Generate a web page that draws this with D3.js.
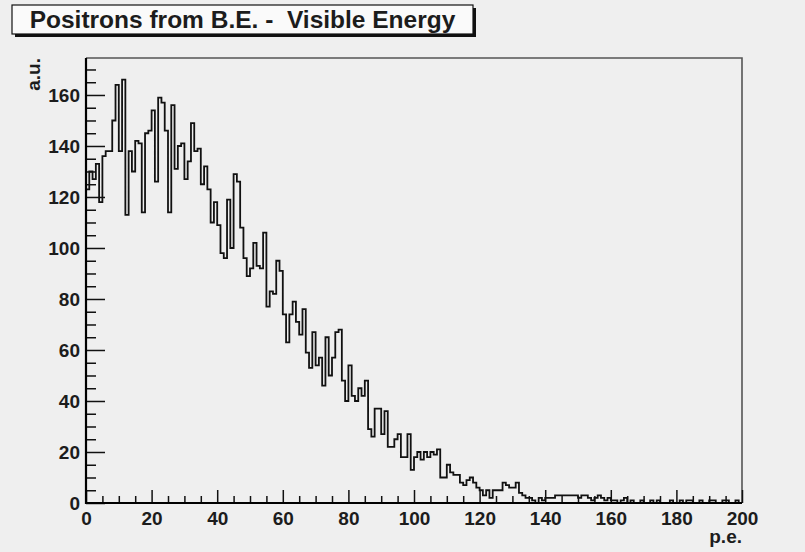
<!DOCTYPE html>
<html>
<head>
<meta charset="utf-8">
<script src="https://cdn.jsdelivr.net/npm/d3@7"></script>
<style>
  body { margin: 0; background: #efefef; }
  svg { display: block; }
  text { font-family: "Liberation Sans", Arial, sans-serif; font-weight: bold; fill: #1c1c1c; }
</style>
</head>
<body>
<div id="plot"></div>
<script>
const w = 805;
const h = 552;

//Histogram contents, one entry per 1 p.e. bin from 0 to 200
const counts = [
  123, 130, 127, 133, 118, 136, 138, 138, 150, 164,
  138, 166, 113, 138, 130, 142, 141, 114, 145, 146,
  154, 126, 159, 157, 146, 114, 156, 131, 140, 141,
  127, 134, 149, 138, 139, 125, 132, 123, 110, 118,
  109,  98,  96, 119, 100, 129, 126, 108,  96,  89,
   92, 102,  93,  92, 106,  77,  83,  82,  95,  91,
   74,  63,  74,  79,  71,  66,  76,  59,  53,  67,
   54,  57,  46,  65,  50,  57,  67,  68,  48,  40,
   54,  42,  40,  45,  42,  48,  29,  26,  37,  37,
   27,  36,  22,  22,  25,  27,  18,  18,  27,  13,
   18,  20,  17,  20,  18,  20,  19,  21,  10,  10,
   15,  12,  11,  11,   8,   7,   9,  10,   8,   6,
    5,   3,   5,   2,   5,   5,   5,   8,   7,   6,
    6,   8,   4,   3,   2,   2,   1,   0,   2,   1,
    2,   2,   2,   3,   3,   3,   3,   3,   3,   3,
    2,   3,   3,   2,   1,   2,   3,   2,   1,   2,
    1,   1,   0,   1,   2,   0,   1,   0,   0,   1,
    0,   0,   1,   0,   1,   0,   0,   0,   1,   0,
    0,   1,   0,   1,   1,   0,   0,   1,   0,   0,
    1,   1,   0,   0,   1,   1,   0,   0,   1,   0
];
const xRange = [0, 200];
const yRange = [0, 174.5];
const xMajor = [0, 20, 40, 60, 80, 100, 120, 140, 160, 180, 200];
const yMajor = [0, 20, 40, 60, 80, 100, 120, 140, 160];
const titleText = 'Positrons from B.E. -  Visible Energy';
const xTitle = 'p.e.';
const yTitle = 'a.u.';

const svg = d3.select('#plot').append('svg').attr('width', w).attr('height', h);

const padL = 86, padR = 742, padT = 58, padB = 503;
const x = d3.scaleLinear().domain(xRange).range([padL, padR]);
const y = d3.scaleLinear().domain(yRange).range([padB, padT]);

//minor ticks every 5
const xMinor = d3.range(0, 201, 5).filter(d => d % 20 !== 0);
const yMinor = d3.range(0, 175, 5).filter(d => d % 20 !== 0);

//title pave with shadow
svg.append('rect').attr('x', 15).attr('y', 8).attr('width', 461).attr('height', 29).attr('fill', '#111');
svg.append('rect').attr('x', 12).attr('y', 5).attr('width', 461).attr('height', 29)
  .attr('fill', '#fafafa').attr('stroke', '#111').attr('stroke-width', 1.2);
svg.append('text').attr('x', 242.5).attr('y', 28).attr('text-anchor', 'middle')
  .style('font-size', '24.5px').style('white-space', 'pre').text(titleText);

//frame top + right
svg.append('path')
  .attr('d', `M${padL},${padT}H${padR}V${padB}`)
  .attr('fill', 'none').attr('stroke', '#555').attr('stroke-width', 1.6);

//histogram outline
const pts = [[xRange[0], 0]];
counts.forEach((c, i) => { pts.push([i, c]); pts.push([i + 1, c]); });
pts.push([xRange[1], 0]);
const line = d3.line().x(d => x(d[0])).y(d => y(d[1]));
svg.append('path').datum(pts)
  .attr('d', line)
  .attr('fill', 'none').attr('stroke', '#111').attr('stroke-width', 1.8);

//y axis
svg.append('g').attr('transform', `translate(${padL},0)`)
  .call(d3.axisLeft(y).tickValues(yMajor).tickSize(-19).tickPadding(6).tickFormat(d3.format('d')));
svg.append('g').attr('transform', `translate(${padL},0)`)
  .call(d3.axisLeft(y).tickValues(yMinor).tickSize(-10).tickFormat(''));

//x axis
svg.append('g').attr('transform', `translate(0,${padB})`)
  .call(d3.axisBottom(x).tickValues(xMajor).tickSize(-13).tickPadding(8.5).tickFormat(d3.format('d')));
svg.append('g').attr('transform', `translate(0,${padB})`)
  .call(d3.axisBottom(x).tickValues(xMinor).tickSize(-7).tickFormat(''));

svg.selectAll('.domain').remove();
svg.selectAll('.tick line').attr('stroke', '#111').attr('stroke-width', 1.5);
svg.selectAll('.tick text').style('font-size', '19px').attr('fill', '#1c1c1c')
  .style('font-family', '"Liberation Sans", Arial, sans-serif').style('font-weight', 'bold');

//axis lines, thicker on left/bottom
svg.append('path')
  .attr('d', `M${padL},${padT}V${padB}H${padR}`)
  .attr('fill', 'none').attr('stroke', '#000').attr('stroke-width', 2.2);

//axis titles
svg.append('text').attr('x', padR).attr('y', 543).attr('text-anchor', 'end')
  .style('font-size', '19px').text(xTitle);
svg.append('text').attr('transform', `translate(40,${padT}) rotate(-90)`).attr('text-anchor', 'end')
  .style('font-size', '19px').text(yTitle);
</script>
</body>
</html>
